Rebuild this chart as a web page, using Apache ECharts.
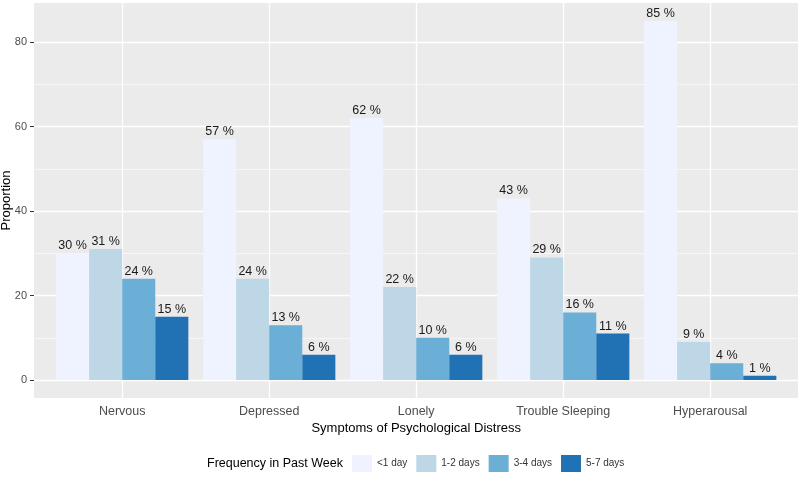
<!DOCTYPE html>
<html>
<head>
<meta charset="utf-8">
<script src="https://cdn.jsdelivr.net/npm/echarts@6/dist/echarts.min.js"></script>
<style>html,body{margin:0;padding:0;background:#fff}#c{width:800px;height:478px}</style>
</head>
<body>
<div id="c"></div>
<script>
var categories = ['Nervous', 'Depressed', 'Lonely', 'Trouble Sleeping', 'Hyperarousal'];
var seriesNames = ['<1 day', '1-2 days', '3-4 days', '5-7 days'];
var lessThan1Day = [30, 57, 62, 43, 85];
var days1to2 = [31, 24, 22, 29, 9];
var days3to4 = [24, 13, 10, 16, 4];
var days5to7 = [15, 6, 6, 11, 1];
var yMajorTicks = [0, 20, 40, 60, 80];
var yMinorTicks = [10, 30, 50, 70];
var colors = ['#eff3ff', '#bdd7e7', '#6baed6', '#2171b5'];
var seriesValues = [lessThan1Day, days1to2, days3to4, days5to7];

var FONT = 'Liberation Sans, Arial, Helvetica, sans-serif';
var yMin = -4.25, yMax = 89.25;

var chart = echarts.init(document.getElementById('c'), null, {renderer: 'canvas'});
var option = {
  animation: false,
  backgroundColor: '#ffffff',
  textStyle: {fontFamily: FONT},
  title: {
    text: 'Frequency in Past Week',
    left: 207, top: 457, padding: 0,
    textStyle: {fontSize: 12.5, fontWeight: 'normal', color: '#000', fontFamily: FONT}
  },
  legend: {
    left: 352, top: 455, padding: 0,
    itemWidth: 20, itemHeight: 17, itemGap: 9,
    icon: 'rect',
    data: seriesNames,
    textStyle: {fontSize: 10, color: '#333', fontFamily: FONT}
  },
  graphic: [{
    type: 'rect', z: -10, silent: true,
    shape: {x: 34, y: 3, width: 764, height: 395},
    style: {fill: '#ebebeb'}
  }],
  grid: [
    {left: 34, top: 3, width: 764, height: 395, outerBoundsMode: 'none', containLabel: false},
    {left: 48.7, top: 3, width: 735, height: 395, outerBoundsMode: 'none', containLabel: false}
  ],
  xAxis: [
    {
      type: 'category', gridIndex: 1, data: categories, position: 'bottom',
      axisLine: {show: false},
      axisTick: {show: true, alignWithLabel: true, length: 4, lineStyle: {color: '#333', width: 1}},
      axisLabel: {color: '#4d4d4d', fontSize: 12.5, margin: 7, fontFamily: FONT},
      splitLine: {show: false},
      name: 'Symptoms of Psychological Distress', nameLocation: 'middle', nameGap: 24,
      nameMoveOverlap: false,
      nameTextStyle: {fontSize: 13, color: '#000', fontFamily: FONT}
    },
    {
      type: 'category', gridIndex: 1, data: categories, position: 'top',
      axisLine: {show: false},
      axisTick: {show: true, inside: true, alignWithLabel: true, length: 395, lineStyle: {color: '#ffffff', width: 1.3}},
      axisLabel: {show: false},
      splitLine: {show: false}
    },
    {type: 'value', gridIndex: 0, show: false}
  ],
  yAxis: [
    {
      type: 'value', gridIndex: 0, min: yMin, max: yMax, position: 'left',
      axisLine: {show: false},
      axisTick: {show: true, length: 4, customValues: yMajorTicks, lineStyle: {color: '#333'}},
      axisLabel: {color: '#4d4d4d', fontSize: 11, margin: 7, customValues: yMajorTicks, fontFamily: FONT},
      splitLine: {show: true, lineStyle: {color: '#ffffff', width: 1.3}},
      name: 'Proportion', nameLocation: 'middle', nameGap: 21, nameRotate: 90,
      nameMoveOverlap: false,
      nameTextStyle: {fontSize: 13, color: '#000', fontFamily: FONT}
    },
    {
      type: 'value', gridIndex: 0, min: yMin, max: yMax, position: 'right',
      axisLine: {show: false},
      axisTick: {show: false, customValues: yMinorTicks},
      axisLabel: {show: false, customValues: yMinorTicks},
      splitLine: {show: true, lineStyle: {color: '#ffffff', width: 0.6}}
    },
    {type: 'value', gridIndex: 1, min: yMin, max: yMax, show: false}
  ],
  series: seriesNames.map(function (name, i) {
    return {
      name: name, type: 'bar', xAxisIndex: 0, yAxisIndex: 2,
      data: seriesValues[i],
      barGap: '0%', barCategoryGap: '10%',
      itemStyle: {color: colors[i]},
      label: {
        show: true, position: 'top', distance: 1,
        formatter: '{c} %', fontSize: 12.5, color: '#1a1a1a', fontFamily: FONT
      }
    };
  })
};
chart.setOption(option);
</script>
</body>
</html>
